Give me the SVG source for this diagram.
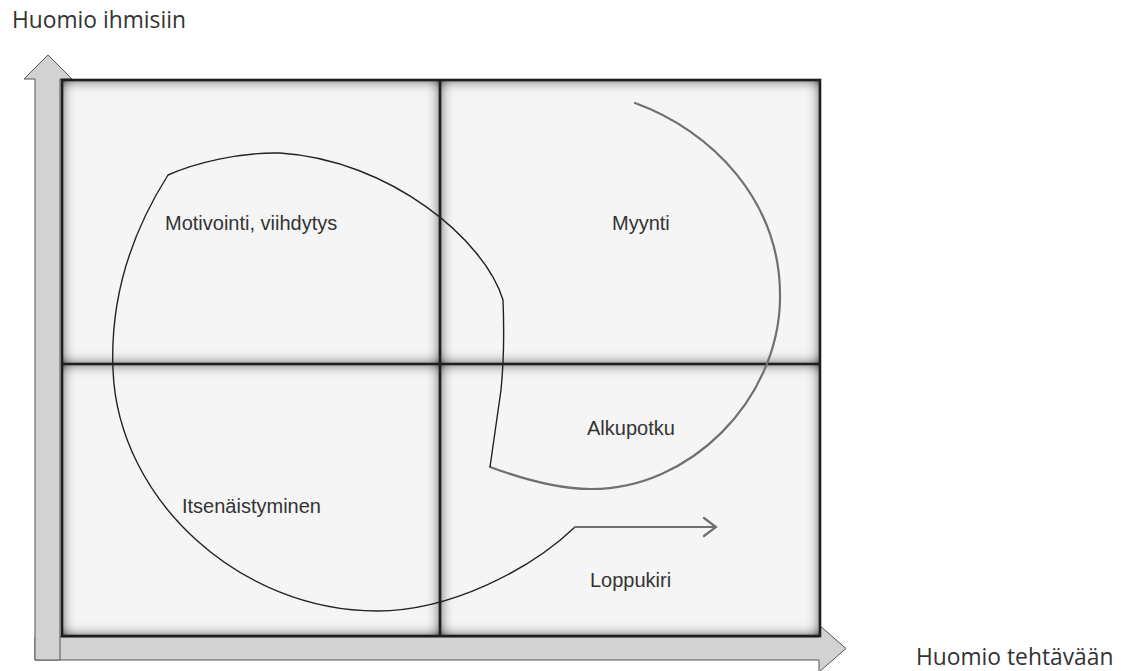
<svg xmlns="http://www.w3.org/2000/svg" width="1128" height="671" viewBox="0 0 1128 671">
  <style>
    .axis { fill: #d2d2d2; stroke: #555; stroke-width: 1; }
    .cell { fill: #f5f5f5; filter: url(#inset); }
    .rule { stroke: #1e1e1e; stroke-width: 2.6; fill: none; }
    .dark { fill: none; stroke: #222; stroke-width: 1.4; }
    .grey { fill: none; stroke: #707070; stroke-width: 2.2; stroke-linecap: round; }
    .lbl { font-family: "Liberation Sans", Arial, sans-serif; font-size: 20px; fill: #333; }
    .ax { font-family: "Open Sans", "Liberation Sans", sans-serif; font-size: 22.8px; fill: #333; }
  </style>
  <defs>
    <!-- soft shading along the inside of each quadrant -->
    <filter id="inset" x="-0.1" y="-0.1" width="1.2" height="1.2">
      <feGaussianBlur in="SourceAlpha" stdDeviation="7" result="blur"/>
      <feComposite in="SourceAlpha" in2="blur" operator="arithmetic" k1="0" k2="1.3" k3="-1.3" k4="0" result="edge"/>
      <feFlood flood-color="#000" flood-opacity="1"/>
      <feComposite in2="edge" operator="in" result="shade"/>
      <feMerge><feMergeNode in="SourceGraphic"/><feMergeNode in="shade"/></feMerge>
    </filter>
  </defs>

  <rect width="1128" height="671" fill="#fff"/>

  <!-- axes -->
  <g id="axis-x">
    <path class="axis" d="M35,637 L819,637 L819,625 L846,648.5 L819,672 L819,660 L35,660 Z"/>
    <text class="ax" x="916" y="665">Huomio tehtävään</text>
  </g>
  <g id="axis-y">
    <path class="axis" d="M35,660 L35,79 L24,79 L48,55 L72,79 L60,79 L60,660 Z"/>
    <text class="ax" x="12" y="28">Huomio ihmisiin</text>
  </g>

  <!-- quadrants -->
  <g id="q-top-left"><rect class="cell" x="62" y="80" width="378" height="284"/></g>
  <g id="q-top-right"><rect class="cell" x="440" y="80" width="380" height="284"/></g>
  <g id="q-bottom-left"><rect class="cell" x="62" y="364" width="378" height="272"/></g>
  <g id="q-bottom-right"><rect class="cell" x="440" y="364" width="380" height="272"/></g>

  <g id="grid-lines">
    <rect class="rule" x="62" y="80" width="758" height="556"/>
    <line class="rule" x1="440" y1="80" x2="440" y2="636"/>
    <line class="rule" x1="62" y1="364" x2="820" y2="364"/>
  </g>

  <!-- path through the quadrants -->
  <g id="connectors">
    <path class="grey" d="M635,103 C710,130 782,200 780,300 C778,400 690,490 590,489 C555,489 520,478 490,467"/>
    <path class="dark" d="M490,467 L501,390 Q505,350 503,300 C485,240 390,160 280,153 C240,152 195,163 168,175 C130,235 110,300 113,370 C118,500 240,611 377,611 C450,611 530,570 575,527"/>
    <path class="grey" d="M575,527 L716,527 M704,518 L716,527 L704,536"/>
  </g>

  <!-- quadrant labels -->
  <g id="label-motivointi"><text class="lbl" x="165" y="230">Motivointi, viihdytys</text></g>
  <g id="label-myynti"><text class="lbl" x="612" y="230">Myynti</text></g>
  <g id="label-alkupotku"><text class="lbl" x="587" y="435">Alkupotku</text></g>
  <g id="label-itsenaistyminen"><text class="lbl" x="182" y="513">Itsenäistyminen</text></g>
  <g id="label-loppukiri"><text class="lbl" x="590" y="587">Loppukiri</text></g>
</svg>
